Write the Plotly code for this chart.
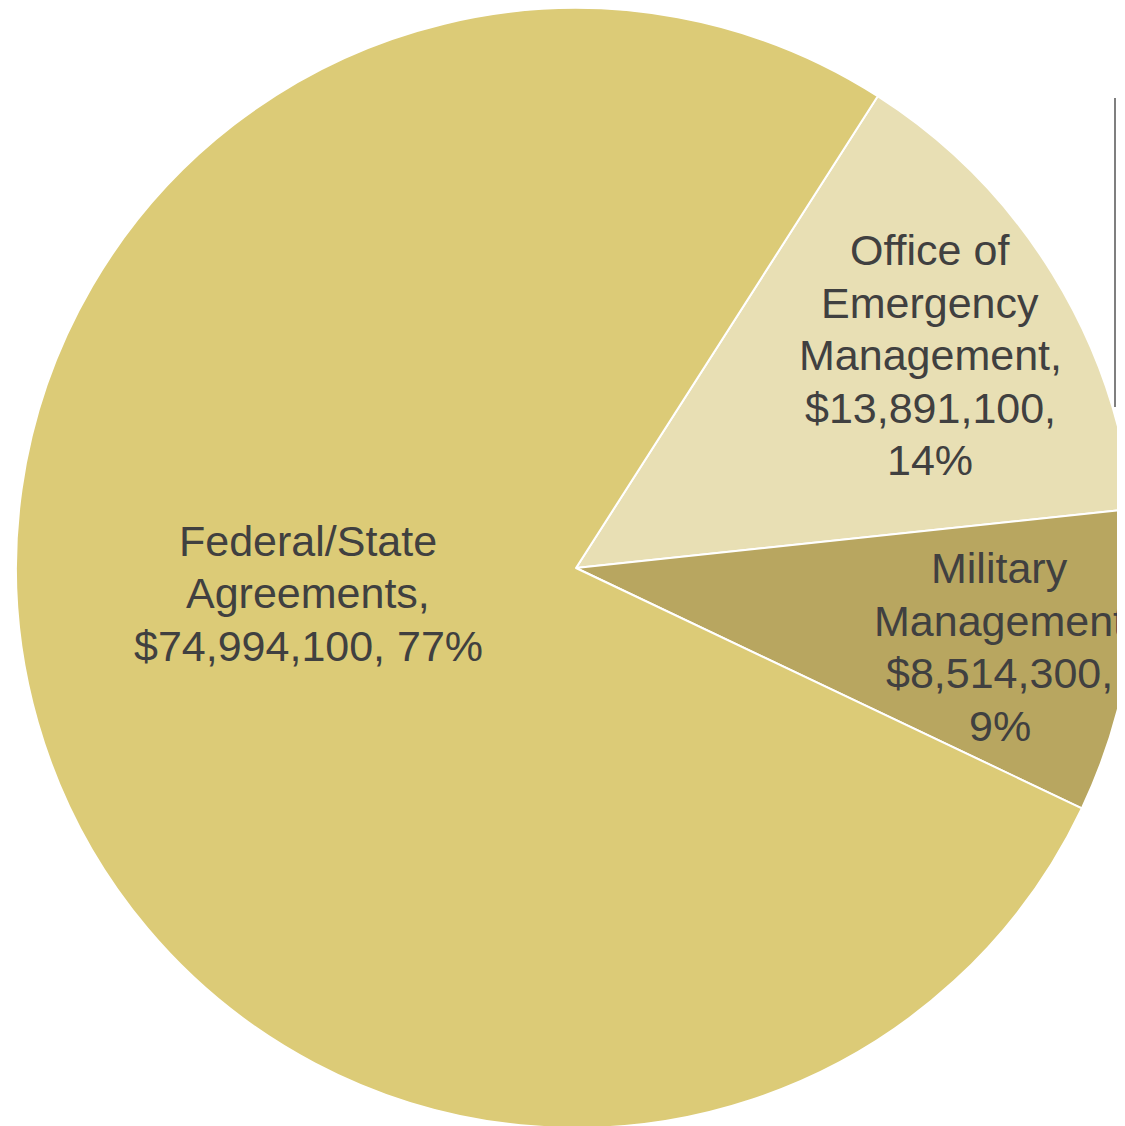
import plotly.graph_objects as go

# ---- data ----
categories = ["Office of Emergency Management", "Military Management", "Federal/State Agreements"]
values = [13891100, 8514300, 74994100]
percent_labels = ["14%", "9%", "77%"]
colors = ["#E8DFB4", "#B8A660", "#DCCB77"]

# label text lines (as shown in the chart)
label_lines = [
    ["Office of", "Emergency", "Management,", "$13,891,100,", "14%"],
    ["Military", "Management", "$8,514,300,", "9%"],
    ["Federal/State", "Agreements,", "$74,994,100, 77%"],
]

# ---- layout geometry (pixels in page) ----
FIG_W, FIG_H = 1136, 1120
OFFSET = 8  # default page body margin
label_centers_px = [(930, 355), (1000, 647), (308, 593)]
LINE_SPACING = 52.5
FONT_SIZE = 43


def to_paper(px, py):
    return (px - OFFSET) / FIG_W, 1 - (py - OFFSET) / FIG_H


fig = go.Figure(
    go.Pie(
        labels=categories,
        values=values,
        sort=False,
        direction="clockwise",
        rotation=32.6,
        marker=dict(colors=colors, line=dict(color="white", width=2)),
        textinfo="none",
        hoverinfo="label+value+percent",
        domain=dict(x=[0, 1], y=[0, 1]),
    )
)

annotations = []
for lines, (cx, cy) in zip(label_lines, label_centers_px):
    n = len(lines)
    for i, line in enumerate(lines):
        py = cy + (i - (n - 1) / 2) * LINE_SPACING
        xp, yp = to_paper(cx, py)
        annotations.append(
            dict(
                x=xp, y=yp, xref="paper", yref="paper", text=line, showarrow=False,
                xanchor="center", yanchor="middle",
                font=dict(family="Liberation Sans, Arial, sans-serif", size=FONT_SIZE, color="#404040"),
            )
        )

x0, y0 = to_paper(1115, 98)
x1, y1 = to_paper(1115, 407)
fig.update_layout(
    width=FIG_W,
    height=FIG_H,
    margin=dict(l=0, r=0, t=0, b=0),
    showlegend=False,
    paper_bgcolor="white",
    plot_bgcolor="white",
    annotations=annotations,
    shapes=[dict(type="line", xref="paper", yref="paper", x0=x0, x1=x1, y0=y0, y1=y1,
                 line=dict(color="#7F7F7F", width=2))],
)

fig.write_html("out.html")
